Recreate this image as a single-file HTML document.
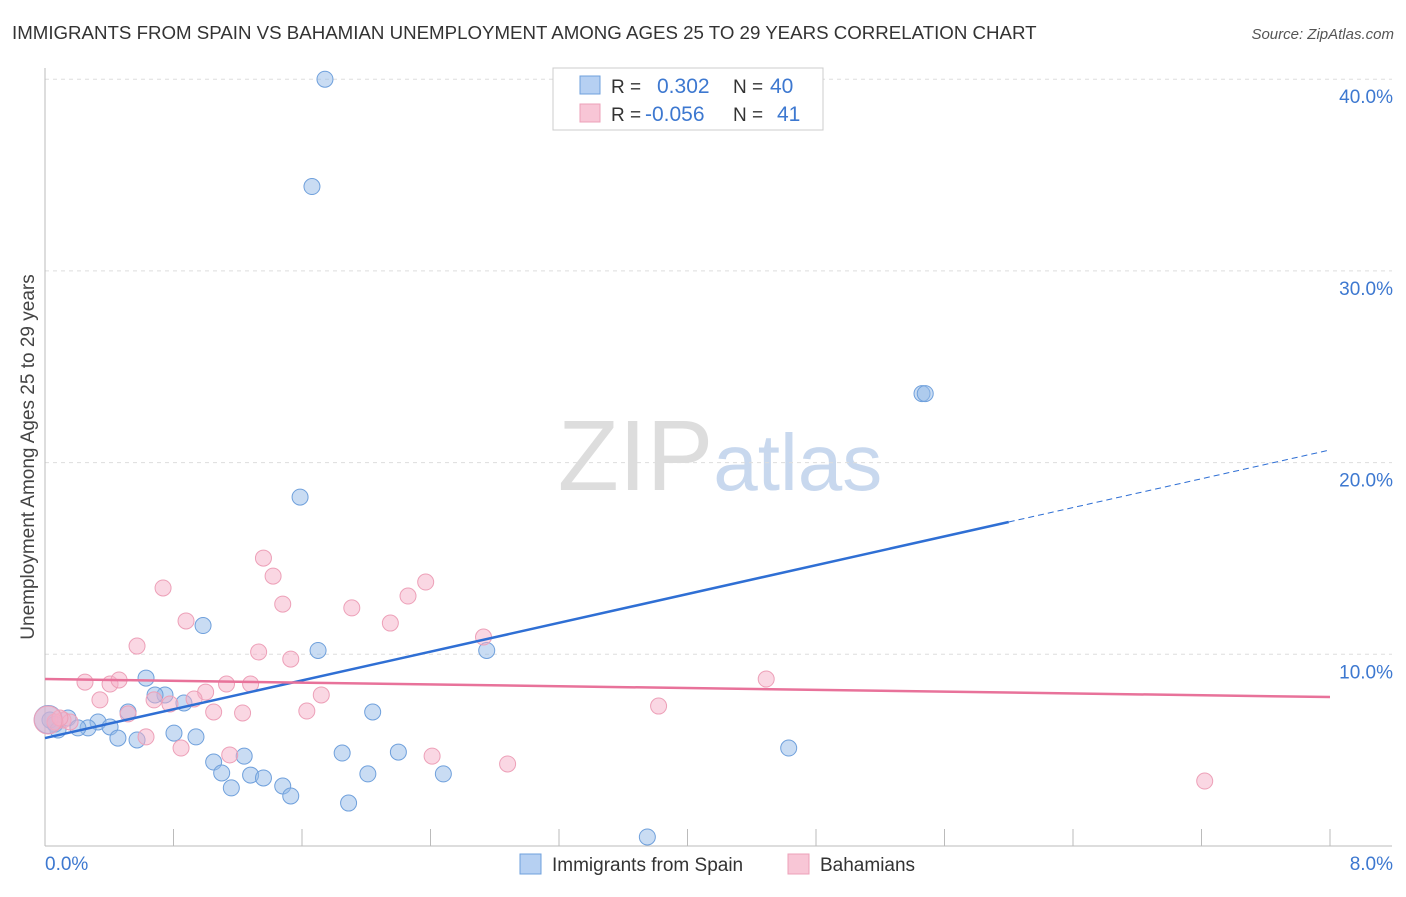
<!DOCTYPE html>
<html><head><meta charset="utf-8"><style>
body{margin:0;background:#fff;font-family:"Liberation Sans",sans-serif;}
svg text{font-family:"Liberation Sans",sans-serif;}
</style></head><body>
<svg id="chart" width="1406" height="892" xmlns="http://www.w3.org/2000/svg">
<text x="12" y="39" font-size="18.7" fill="#333">IMMIGRANTS FROM SPAIN VS BAHAMIAN UNEMPLOYMENT AMONG AGES 25 TO 29 YEARS CORRELATION CHART</text>
<text x="1394" y="39" font-size="15" fill="#555" text-anchor="end" font-style="italic">Source: ZipAtlas.com</text>
<text transform="translate(34,457) rotate(-90)" font-size="19" fill="#444" text-anchor="middle">Unemployment Among Ages 25 to 29 years</text>
<text x="720" y="490" font-size="100" text-anchor="middle" fill="#ddd" font-family="Liberation Serif">ZIP<tspan fill="#c8d8ee" font-family="Liberation Sans" font-size="80">atlas</tspan></text>
<g id="grid"></g><g id="axes"></g><g id="pts"></g><g id="lines"></g>
<g>
<rect x="553" y="68" width="270" height="62" fill="#fff" stroke="#ccc"/>
<rect x="580" y="76" width="20" height="18" fill="#b6d0f2" stroke="#6fa0dc"/>
<rect x="580" y="104" width="20" height="18" fill="#f8c6d6" stroke="#eda0b8"/>
<text x="611" y="93" font-size="19" fill="#333">R =</text><text x="657" y="93" font-size="21" fill="#3d78d0">0.302</text>
<text x="733" y="93" font-size="19" fill="#333">N =</text><text x="770" y="93" font-size="21" fill="#3d78d0">40</text>
<text x="611" y="121" font-size="19" fill="#333">R =</text><text x="645" y="121" font-size="21" fill="#3d78d0">-0.056</text>
<text x="733" y="121" font-size="19" fill="#333">N =</text><text x="777" y="121" font-size="21" fill="#3d78d0">41</text>
</g>
<g>
<rect x="520" y="854" width="21" height="20" fill="#b6d0f2" stroke="#6fa0dc"/>
<text x="552" y="871" font-size="19" fill="#333">Immigrants from Spain</text>
<rect x="788" y="854" width="21" height="20" fill="#f8c6d6" stroke="#eda0b8"/>
<text x="820" y="871" font-size="19" fill="#333">Bahamians</text>
</g>
</svg>
<script>
const xTicks=[0,0.8,1.6,2.4,3.2,4.0,4.8,5.6,6.4,7.2,8.0];
const yTicks=[10,20,30,40];
const blueX=[1.743,1.662,5.46,1.588,0.984,1.70,2.75,0.629,0.747,0.685,0.865,0.517,2.04,0.330,0.143,0.405,0.268,0.062,0.031,0.081,0.454,0.573,0.803,0.940,1.85,2.20,1.24,4.63,1.05,1.10,1.28,1.36,2.01,2.48,1.16,1.48,1.53,1.89,3.75,0.205,5.48,0.02];
const blueY=[40.0,34.4,23.6,18.2,11.5,10.2,10.2,8.76,7.88,7.88,7.46,6.99,6.99,6.47,6.68,6.21,6.16,6.36,6.57,6.05,5.63,5.53,5.89,5.69,4.85,4.90,4.69,5.11,4.38,3.81,3.70,3.55,3.76,3.76,3.03,3.13,2.61,2.24,0.47,6.16,23.6,6.6];
const pinkX=[0.735,1.36,1.42,2.37,2.26,1.48,1.91,0.878,2.15,2.73,0.573,1.33,1.53,0.249,0.405,0.461,1.28,1.13,1.00,0.679,0.342,0.928,1.72,0.778,0.517,1.05,1.23,1.63,3.82,4.49,0.629,0.847,1.15,2.41,2.88,7.22,0.112,0.156,0.062,0.093,0.019];
const pinkY=[13.46,15.02,14.08,13.77,13.04,12.62,12.42,11.74,11.63,10.90,10.43,10.12,9.75,8.55,8.45,8.66,8.45,8.45,8.03,7.62,7.62,7.67,7.88,7.41,6.89,6.99,6.94,7.04,7.30,8.71,5.69,5.11,4.75,4.69,4.28,3.39,6.57,6.47,6.47,6.68,6.57];
const blueTrend=[5.63,20.66]; const blueSolidEnd=6.0;
const pinkTrend=[8.71,7.77];
const NS="http://www.w3.org/2000/svg";
const X=v=>45+v/8*1285, Y=v=>846-v*19.17;
function mk(p,t,a){const e=document.createElementNS(NS,t);for(const k in a)e.setAttribute(k,a[k]);document.getElementById(p).appendChild(e);return e;}
yTicks.forEach(t=>{const l=mk('grid','line',{x1:45,x2:1392,y1:Y(t),y2:Y(t),stroke:'#ddd','stroke-dasharray':'4,4'});


const tx=mk('grid','text',{x:1393,y:Y(t)+24,'font-size':19,fill:'#3d78d0','text-anchor':'end'});tx.textContent=t.toFixed(1)+'%';

});
let a=mk('axes','line',{x1:45,x2:45,y1:68,y2:846,stroke:'#bbb'});


a=mk('axes','line',{x1:45,x2:1392,y1:846,y2:846,stroke:'#bbb'});


xTicks.forEach((t,i)=>{if(i==0)return;const l=mk('axes','line',{x1:X(t),x2:X(t),y1:829,y2:846,stroke:'#bbb'});

});
[[0,45,'start'],[8,1393,'end']].forEach(d=>{const tx=mk('axes','text',{x:d[1],y:870,'font-size':19,fill:'#3d78d0','text-anchor':d[2]});tx.textContent=d[0].toFixed(1)+'%';

});
function pts(xs,ys,f,s,n){xs.forEach((x,i)=>{const c=mk('pts','circle',{cx:X(x),cy:Y(ys[i]),r:(i==xs.length-1)?14:8,fill:f,stroke:s,'stroke-width':1});

});}
pts(blueX,blueY,'rgba(147,185,232,0.5)','#6fa0dc','blue-point');
pts(pinkX,pinkY,'rgba(246,176,200,0.5)','#eda0b8','pink-point');
const bs=blueTrend[0]+(blueTrend[1]-blueTrend[0])*blueSolidEnd/8;
let l=mk('lines','line',{x1:X(0),y1:Y(blueTrend[0]),x2:X(blueSolidEnd),y2:Y(bs),stroke:'#2f6fd4','stroke-width':2.5});


l=mk('lines','line',{x1:X(blueSolidEnd),y1:Y(bs),x2:X(8),y2:Y(blueTrend[1]),stroke:'#2f6fd4','stroke-width':1,'stroke-dasharray':'6,4'});


l=mk('lines','line',{x1:X(0),y1:Y(pinkTrend[0]),x2:X(8),y2:Y(pinkTrend[1]),stroke:'#e8729a','stroke-width':2.5});


</script>
</body></html>
